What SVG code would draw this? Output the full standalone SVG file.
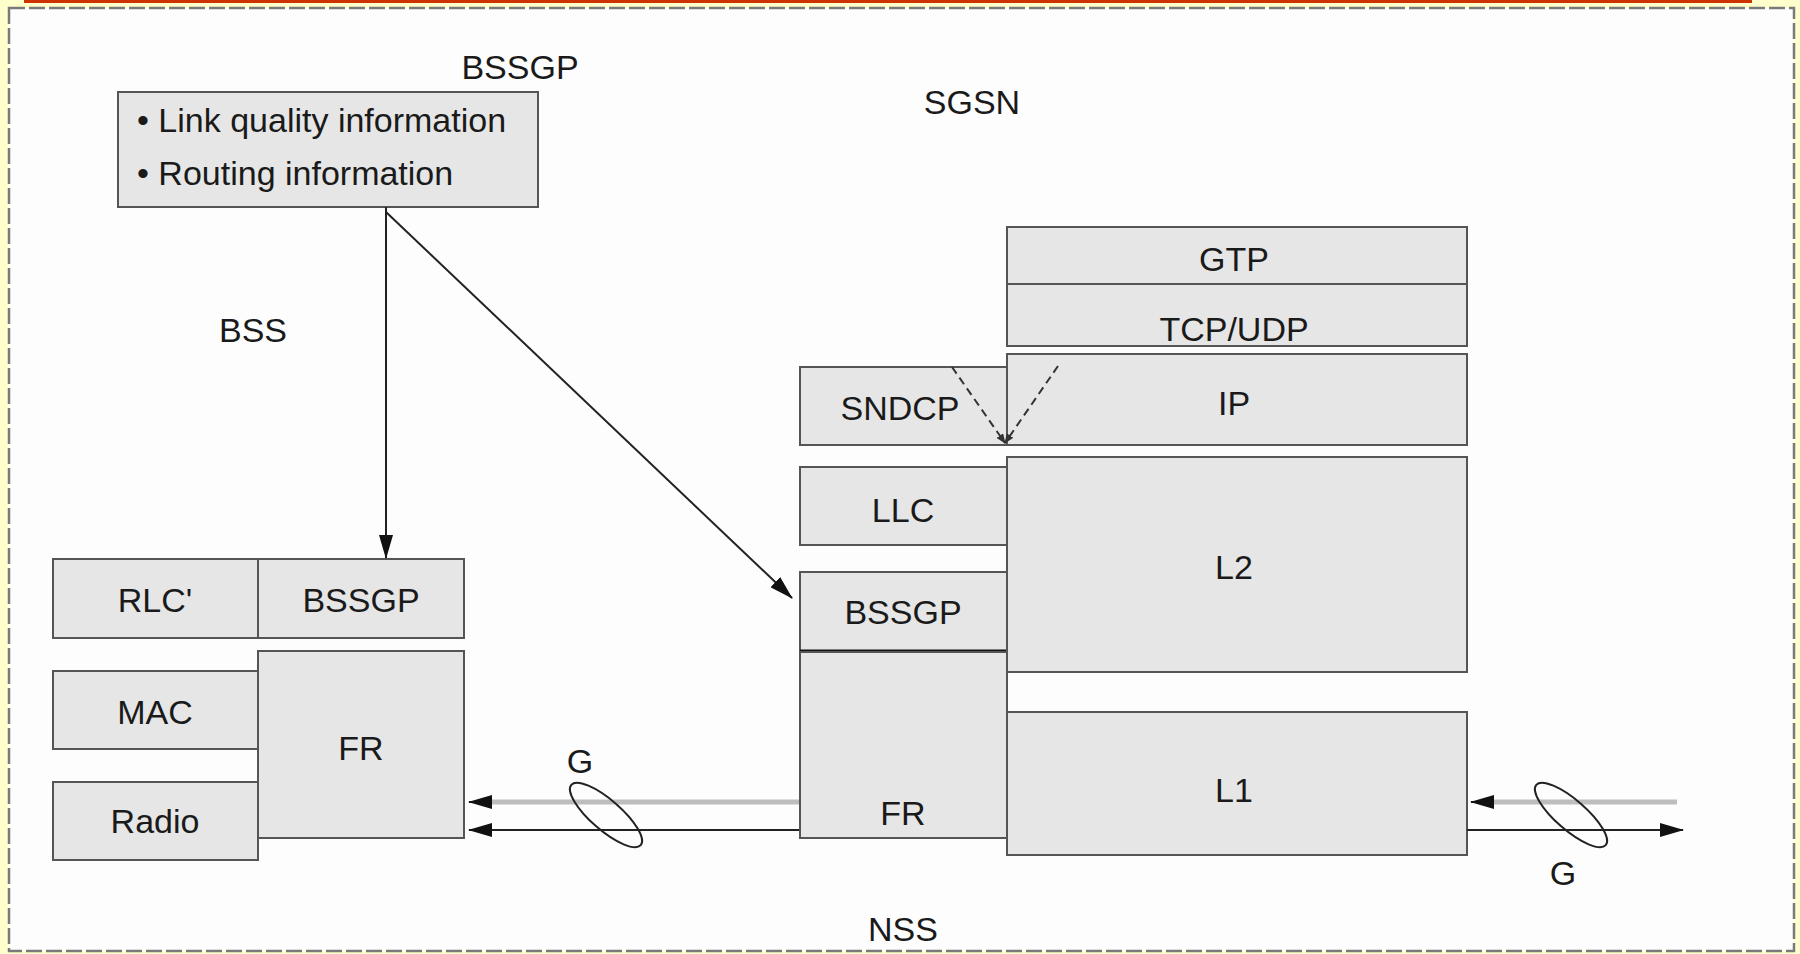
<svg xmlns="http://www.w3.org/2000/svg" width="1800" height="954" viewBox="0 0 1800 954">
<style>
  .box { fill: #e6e6e6; stroke: #555; stroke-width: 2; }
  .lbl { font-family: "Liberation Sans", Arial, sans-serif; font-size: 34px; fill: #1a1a1a; text-anchor: middle; }
  .lt { font-family: "Liberation Sans", Arial, sans-serif; font-size: 34px; fill: #1a1a1a; }
  .ln { stroke: #222; stroke-width: 2; fill: none; }
  .gl { stroke: #bdbdbd; stroke-width: 5; fill: none; }
  .dash { stroke: #333; stroke-width: 2; stroke-dasharray: 8 5; fill: none; }
  .ell { stroke: #222; stroke-width: 2; fill: none; }
</style>
<defs>
  <marker id="ah" markerUnits="userSpaceOnUse" markerWidth="24" markerHeight="14" refX="23" refY="7" orient="auto">
    <path d="M0,0 L24,7 L0,14 z" fill="#111"/>
  </marker>
  <marker id="ahs" markerUnits="userSpaceOnUse" markerWidth="10" markerHeight="8" refX="9" refY="4" orient="auto">
    <path d="M0,0 L10,4 L0,8 z" fill="#333"/>
  </marker>
</defs>
<rect x="0" y="0" width="1800" height="954" fill="#ffffcc"/>
<rect x="24" y="0" width="1728" height="3" fill="#cc3300"/>
<rect x="9" y="8" width="1785" height="943" fill="#fdfdfd" stroke="#7a7a7a" stroke-width="2.5" stroke-dasharray="16 4"/>

<g id="labels">
  <text class="lbl" x="520" y="79">BSSGP</text>
  <text class="lbl" x="972" y="114">SGSN</text>
  <text class="lbl" x="253" y="342">BSS</text>
  <text class="lbl" x="903" y="941">NSS</text>
</g>

<g id="info-box">
  <rect class="box" x="118" y="92" width="420" height="115"/>
  <text class="lt" x="137" y="132">• Link quality information</text>
  <text class="lt" x="137" y="185">• Routing information</text>
</g>

<g id="bss-rlc"><rect class="box" x="53" y="559" width="205" height="79"/><text class="lbl" x="155" y="612">RLC'</text></g>
<g id="bss-mac"><rect class="box" x="53" y="671" width="205" height="78"/><text class="lbl" x="155" y="724">MAC</text></g>
<g id="bss-radio"><rect class="box" x="53" y="782" width="205" height="78"/><text class="lbl" x="155" y="833">Radio</text></g>
<g id="bss-bssgp"><rect class="box" x="258" y="559" width="206" height="79"/><text class="lbl" x="361" y="612">BSSGP</text></g>
<g id="bss-fr"><rect class="box" x="258" y="651" width="206" height="187"/><text class="lbl" x="361" y="760">FR</text></g>

<g id="sgsn-sndcp"><rect class="box" x="800" y="367" width="207" height="78"/><text class="lbl" x="900" y="420">SNDCP</text></g>
<g id="sgsn-llc"><rect class="box" x="800" y="467" width="207" height="78"/><text class="lbl" x="903" y="522">LLC</text></g>
<g id="sgsn-bssgp"><rect class="box" x="800" y="572" width="207" height="79"/><text class="lbl" x="903" y="624">BSSGP</text>
  <line x1="800" y1="651" x2="1007" y2="651" stroke="#111" stroke-width="3"/></g>
<g id="sgsn-fr"><rect class="box" x="800" y="652" width="207" height="186"/><text class="lbl" x="903" y="825">FR</text></g>
<g id="sgsn-gtp"><rect class="box" x="1007" y="227" width="460" height="57"/><text class="lbl" x="1234" y="271">GTP</text></g>
<g id="sgsn-tcpudp"><rect class="box" x="1007" y="284" width="460" height="62"/><text class="lbl" x="1234" y="341">TCP/UDP</text></g>
<g id="sgsn-ip"><rect class="box" x="1007" y="354" width="460" height="91"/><text class="lbl" x="1234" y="415">IP</text></g>
<g id="sgsn-l2"><rect class="box" x="1007" y="457" width="460" height="215"/><text class="lbl" x="1234" y="579">L2</text></g>
<g id="sgsn-l1"><rect class="box" x="1007" y="712" width="460" height="143"/><text class="lbl" x="1234" y="802">L1</text></g>

<g id="connectors">
  <line class="ln" x1="386" y1="207" x2="386" y2="558" marker-end="url(#ah)"/>
  <line class="ln" x1="386" y1="212" x2="792" y2="598" marker-end="url(#ah)"/>
  <line class="dash" x1="952" y1="367" x2="1005" y2="443" marker-end="url(#ahs)"/>
  <line class="dash" x1="1058" y1="366" x2="1005" y2="443" marker-end="url(#ahs)"/>
  <line class="gl" x1="799" y1="802" x2="490" y2="802"/>
  <line class="ln" x1="490" y1="802" x2="469" y2="802" marker-end="url(#ah)"/>
  <line class="ln" x1="799" y1="830" x2="469" y2="830" marker-end="url(#ah)"/>
  <line class="gl" x1="1677" y1="802" x2="1494" y2="802"/>
  <line class="ln" x1="1494" y1="802" x2="1471" y2="802" marker-end="url(#ah)"/>
  <line class="ln" x1="1467" y1="830" x2="1683" y2="830" marker-end="url(#ah)"/>
  <ellipse class="ell" cx="606" cy="815" rx="46" ry="15" transform="rotate(41 606 815)"/>
  <ellipse class="ell" cx="1571" cy="815" rx="46" ry="15" transform="rotate(41 1571 815)"/>
  <text class="lbl" x="580" y="773">G</text>
  <text class="lbl" x="1563" y="885">G</text>
</g>
</svg>
